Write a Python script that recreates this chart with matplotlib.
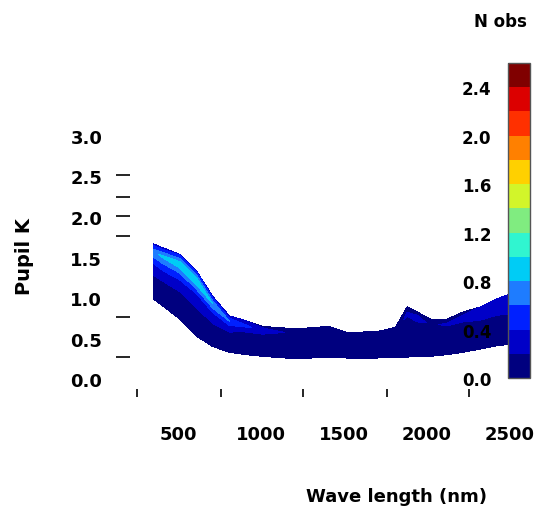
import numpy as np
import matplotlib
matplotlib.use("Agg")
import matplotlib.pyplot as plt
from matplotlib.colors import ListedColormap, BoundaryNorm

# ---- data ----
wavelength = [350, 410, 510, 610, 710, 810, 910, 1010, 1210, 1410, 1510, 1610,
              1710, 1810, 1880, 1940, 2020, 2120, 2220, 2320, 2420, 2500]
upper = [1.67, 1.62, 1.54, 1.34, 1.02, 0.78, 0.72, 0.65, 0.62, 0.65, 0.58, 0.58,
         0.59, 0.64, 0.89, 0.83, 0.74, 0.74, 0.83, 0.89, 0.99, 1.05]
lower = [0.99, 0.90, 0.74, 0.53, 0.40, 0.33, 0.30, 0.28, 0.25, 0.27, 0.26, 0.25,
         0.26, 0.27, 0.27, 0.28, 0.28, 0.30, 0.33, 0.37, 0.41, 0.43]
# relative position across the band (bottom -> top)
band_frac = [0.0, 0.35, 0.65, 0.85, 1.0]
# density (colour value) at each band position, per wavelength
density = [
    [0.10, 0.12, 0.40, 0.75, 0.30],
    [0.10, 0.12, 0.45, 0.85, 0.30],
    [0.10, 0.12, 0.45, 0.95, 0.35],
    [0.10, 0.12, 0.40, 1.00, 0.35],
    [0.10, 0.12, 0.35, 0.80, 0.30],
    [0.10, 0.10, 0.25, 0.60, 0.25],
    [0.10, 0.10, 0.18, 0.45, 0.20],
    [0.10, 0.10, 0.12, 0.30, 0.15],
    [0.10, 0.10, 0.10, 0.15, 0.10],
    [0.10, 0.10, 0.10, 0.12, 0.10],
    [0.10, 0.10, 0.10, 0.12, 0.10],
    [0.10, 0.10, 0.10, 0.12, 0.10],
    [0.10, 0.10, 0.10, 0.12, 0.10],
    [0.10, 0.10, 0.10, 0.15, 0.10],
    [0.10, 0.10, 0.10, 0.22, 0.15],
    [0.10, 0.10, 0.12, 0.25, 0.15],
    [0.10, 0.10, 0.10, 0.18, 0.10],
    [0.10, 0.10, 0.12, 0.22, 0.12],
    [0.10, 0.10, 0.15, 0.25, 0.15],
    [0.10, 0.10, 0.18, 0.30, 0.20],
    [0.10, 0.10, 0.20, 0.35, 0.22],
    [0.10, 0.10, 0.22, 0.40, 0.25],
]
levels = [0.0, 0.2, 0.4, 0.6, 0.8, 1.0, 1.2, 1.4, 1.6, 1.8, 2.0, 2.2, 2.4, 2.6]
colors = ['#00007F', '#0000C8', '#0020FF', '#1E7CFF', '#00CCF5', '#30F5D0',
          '#80EC80', '#D2F52A', '#FFD000', '#FF8000', '#FF3000', '#DC0000', '#800000']

x_labels = ['500', '1000', '1500', '2000', '2500']
x_label_pos = [500, 1000, 1500, 2000, 2500]
x_mark_pos = [253, 759, 1253, 1759, 2253]
y_labels = ['0.0', '0.5', '1.0', '1.5', '2.0', '2.5', '3.0']
y_label_pos = [0.0, 0.5, 1.0, 1.5, 2.0, 2.5, 3.0]
y_mark_pos = [0.27, 0.77, 1.77, 2.01, 2.25, 2.52]
cb_ticks = [0.0, 0.4, 0.8, 1.2, 1.6, 2.0, 2.4]

# ---- figure ----
fig = plt.figure(figsize=(5.39, 5.10), dpi=100)
ax = fig.add_axes([130/539, 1-390/510, 385/539, 260/510])

wl = np.array(wavelength, float)
up = np.array(upper, float)
lo = np.array(lower, float)
fr = np.array(band_frac, float)
X = np.tile(wl, (len(fr), 1))
Y = lo[None, :] + fr[:, None] * (up - lo)[None, :]
Z = np.array(density, float).T

cmap = ListedColormap(colors)
norm = BoundaryNorm(levels, cmap.N)
ax.contourf(X, Y, Z, levels=levels, cmap=cmap, norm=norm)

ax.set_xlim(211, 2530)
ax.set_ylim(-0.123, 3.086)
for s in ax.spines.values():
    s.set_visible(False)

tf = dict(fontsize=13, fontweight='bold')
ax.set_xticks(x_label_pos)
ax.set_xticklabels(x_labels, **tf)
ax.set_xticks(x_mark_pos, minor=True)
ax.set_yticks(y_label_pos)
ax.set_yticklabels(y_labels, **tf)
ax.set_yticks(y_mark_pos, minor=True)
ax.tick_params(axis='x', which='major', length=0, pad=26)
ax.tick_params(axis='y', which='major', length=0, pad=20)
ax.tick_params(axis='x', which='minor', length=6, width=1.2, direction='out')
ax.tick_params(axis='y', which='minor', length=10, width=1.2, direction='out')

fig.text(397/539, 1-497/510, 'Wave length (nm)', ha='center', va='center', **tf)
fig.text(25/539, 1-257/510, 'Pupil K', ha='center', va='center', rotation=90,
         fontsize=14, fontweight='bold')

# ---- colour bar ----
cax = fig.add_axes([508/539, 1-379/510, 22/539, 315/510])
sm = matplotlib.cm.ScalarMappable(norm=norm, cmap=cmap)
cb = fig.colorbar(sm, cax=cax, ticks=cb_ticks, boundaries=levels)
cb.minorticks_off()
cax.yaxis.set_ticks_position('left')
cax.yaxis.set_label_position('left')
cax.tick_params(which='both', length=0, pad=12, right=False)
cax.set_yticklabels(['%.1f' % t for t in cb_ticks], fontsize=12, fontweight='bold')
cb.outline.set_edgecolor('#555555')
cb.outline.set_linewidth(1.0)
fig.text(500/539, 1-22/510, 'N obs', ha='center', va='center', fontsize=12,
         fontweight='bold')

fig.savefig('out.png', dpi=100)
